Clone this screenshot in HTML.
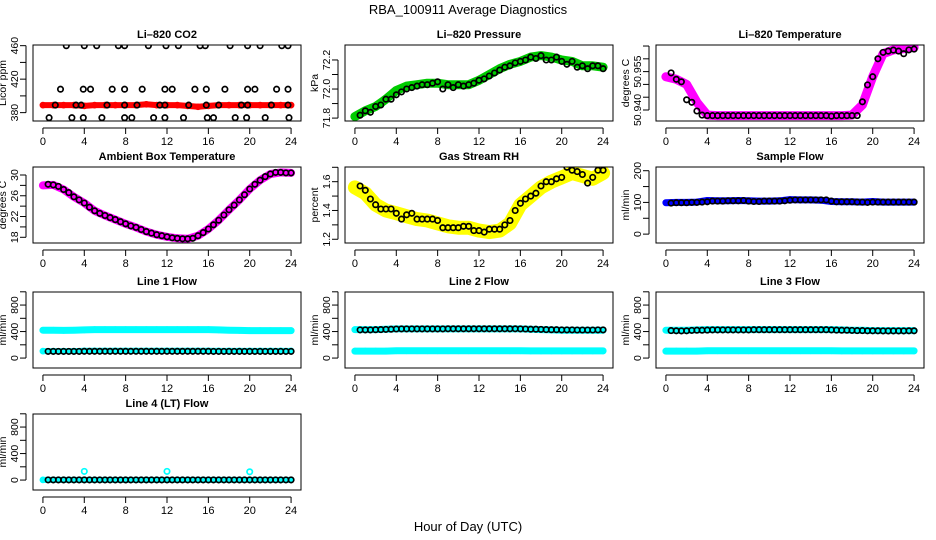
<!DOCTYPE html>
<html><head><meta charset="utf-8"><title>RBA_100911 Average Diagnostics</title>
<style>
html,body{margin:0;padding:0;background:#fff;}
svg{display:block;font-family:"Liberation Sans",sans-serif;}
</style></head>
<body>
<svg id="chart" width="936" height="540" viewBox="0 0 936 540" xmlns="http://www.w3.org/2000/svg">
<text x="468" y="14" text-anchor="middle" font-size="13">RBA_100911  Average Diagnostics</text>
<text x="468" y="531" text-anchor="middle" font-size="13">Hour of Day (UTC)</text>
</svg>
<script>
// ---- data ----
const halfHours = [0,0.5,1,1.5,2,2.5,3,3.5,4,4.5,5,5.5,6,6.5,7,7.5,8,8.5,9,9.5,10,10.5,11,11.5,12,12.5,13,13.5,14,14.5,15,15.5,16,16.5,17,17.5,18,18.5,19,19.5,20,20.5,21,21.5,22,22.5,23,23.5,24];
const hours = [0,1,2,3,4,5,6,7,8,9,10,11,12,13,14,15,16,17,18,19,20,21,22,23,24];
const xTicks = [0,4,8,12,16,20,24];

// CO2
const co2Raw = [389,389,389,389,388,389,389,389,389,389,390,389,389,389,388,387,388,389,389,389,389,389,389,389,389];
const co2PtHours = [2.26,4,5.2,7.3,7.9,10.2,11.9,13.1,15.2,15.7,18.1,19.8,21,23.1,23.7, 1.7,3.9,4.6,6.7,7.9,9.6,11.8,12.5,14.7,15.8,17.6,19.8,20.5,22.6,23.7, 1.2,3.2,3.7,6.2,7.9,9.1,11.3,11.8,14.1,15.8,17,19.2,19.8,22.1,23.7, 0.6,2.8,3.9,5.7,7.9,8.6,10.7,11.8,13.6,15.9,16.5,18.6,19.7,21.5,23.8];
const co2PtVals = [460,460,460,460,460,460,460,460,460,460,460,460,460,460,460, 408,408,408,408,408,408,408,408,408,408,408,408,408,408,408, 389,389,389,389,389,389,389,389,389,389,389,389,389,389,389, 374,374,374,374,374,374,374,374,374,374,374,374,374,374,374];

// Pressure
const presRaw = [71.81,71.85,71.88,71.93,71.99,72.02,72.03,72.04,72.04,72.03,72.03,72.03,72.06,72.10,72.14,72.17,72.19,72.22,72.23,72.22,72.20,72.19,72.16,72.16,72.15];
const presAvg = [null,71.82,71.85,71.84,71.88,71.89,71.93,71.93,71.96,71.98,72.00,72.01,72.02,72.03,72.03,72.04,72.05,72.00,72.03,72.01,72.03,72.02,72.03,72.04,72.06,72.07,72.09,72.11,72.13,72.15,72.16,72.18,72.19,72.20,72.22,72.21,72.23,72.20,72.20,72.22,72.19,72.17,72.19,72.15,72.16,72.14,72.16,72.16,72.14];

// Li-820 temperature
const ltRaw = [50.953,50.952,50.950,50.943,50.938,50.9378,50.9378,50.9378,50.9378,50.9378,50.9378,50.9378,50.9378,50.9378,50.9378,50.9378,50.9378,50.9378,50.9380,50.942,50.953,50.962,50.9635,50.964,50.9645];
const ltAvg = [null,50.9545,50.952,50.951,50.944,50.943,50.9396,50.938,50.9378,50.9378,50.9378,50.9378,50.9378,50.9378,50.9378,50.9378,50.9378,50.9378,50.9378,50.9378,50.9378,50.9378,50.9378,50.9378,50.9378,50.9378,50.9378,50.9378,50.9378,50.9378,50.9378,50.9378,50.9376,50.9378,50.9378,50.9378,50.9378,50.9378,50.9432,50.9498,50.953,50.960,50.9625,50.963,50.9634,50.963,50.962,50.9635,50.9638];

// Ambient box temperature
const ambRaw = [28.0,28.1,27.2,25.8,24.6,23.1,22.2,21.4,20.6,19.9,19.1,18.5,18.1,17.8,17.7,18.3,19.6,21.3,23.3,25.2,27.3,29.0,30.2,30.5,30.4];
const ambAvg = [null,28.2,28.1,27.8,27.2,26.6,25.8,25.2,24.6,23.8,23.1,22.6,22.2,21.8,21.4,21.0,20.6,20.2,19.9,19.5,19.1,18.8,18.5,18.3,18.1,17.9,17.8,17.7,17.7,17.8,18.3,18.9,19.6,20.4,21.3,22.3,23.3,24.2,25.2,26.2,27.3,28.2,29.0,29.7,30.2,30.5,30.5,30.4,30.4];

// Gas stream RH
const rhRaw = [1.56,1.52,1.44,1.40,1.38,1.36,1.34,1.33,1.31,1.29,1.28,1.28,1.26,1.25,1.26,1.31,1.44,1.50,1.56,1.60,1.63,1.66,1.64,1.62,1.66];
const rhAvg = [null,1.57,1.54,1.48,1.44,1.41,1.41,1.41,1.38,1.34,1.37,1.38,1.34,1.34,1.34,1.34,1.33,1.28,1.28,1.28,1.28,1.29,1.29,1.26,1.26,1.25,1.27,1.27,1.27,1.30,1.33,1.40,1.45,1.48,1.50,1.52,1.57,1.60,1.60,1.62,1.63,1.70,1.68,1.67,1.65,1.59,1.63,1.68,1.68];

// Sample flow
const sfRaw = [99,100,100,101,106,105,105,106,105,104,104,105,109,108,108,107,103,102,102,101,103,101,101,101,101];
const sfAvg = [null,98,99,99,99,100,100,101,102,104,104,104,105,105,105,106,104,103,103,104,104,104,104,105,107,108,108,108,108,108,108,108,104,102,102,102,102,101,101,100,101,101,101,101,101,101,101,101,101];

// Line flows
const l1High = [420,420,418,420,425,430,430,430,430,430,430,430,430,430,430,430,430,425,420,418,415,415,415,415,415];
const l1Low = [105,105,105,105,110,110,110,110,110,110,110,110,110,110,110,110,110,108,108,108,108,108,108,108,108];
const l1Avg = [null,100,100,100,100,100,100,100,102,102,102,102,102,102,102,102,102,102,102,102,102,102,102,102,102,102,102,102,102,102,102,102,102,100,100,100,100,100,100,100,100,100,100,100,100,100,100,100,100];
const l2High = [430,430,430,435,440,440,440,440,440,440,440,440,440,440,440,440,440,435,430,425,420,420,420,420,420];
const l2Low = [105,105,105,105,110,110,110,110,110,110,110,110,110,110,110,110,110,108,108,108,108,108,108,108,108];
const l2Avg = [null,425,425,425,428,430,432,435,438,440,440,440,440,440,440,440,440,440,442,442,442,442,442,442,442,442,442,442,442,442,442,442,440,438,436,435,432,430,428,428,425,425,425,424,424,424,424,425,425];
const l3High = [420,420,420,425,430,430,430,430,430,430,430,430,430,430,430,430,430,425,420,420,415,415,415,415,415];
const l3Low = [105,105,105,105,110,110,110,110,110,110,110,110,110,110,110,110,110,108,108,108,108,108,108,108,108];
const l3Avg = [null,415,412,410,412,418,420,420,422,425,425,425,425,425,425,425,425,428,428,428,428,428,428,428,428,428,428,428,428,428,428,428,425,422,420,420,418,415,415,412,412,412,410,410,410,410,410,412,412];
const l4Raw = [2,2,2,2,2,2,2,2,2,2,2,2,2,2,2,2,2,2,2,2,2,2,2,2,2];
const l4SpikeHours = [4,12,20];
const l4SpikeVals = [130,130,125];
const l4Avg = [null,2,2,2,2,2,2,2,2,2,2,2,2,2,2,2,2,2,2,2,2,2,2,2,2,2,2,2,2,2,2,2,2,2,2,2,2,2,2,2,2,2,2,2,2,2,2,2,2];

// ---- layout ----
const NS = 'http://www.w3.org/2000/svg';
const svg = document.getElementById('chart');
const colL = [33,345,656], rowT = [45,167,292,414], PW = 268, PH = 76;
function mk(tag, attrs, parent){ const e=document.createElementNS(NS,tag); for(const k in attrs) e.setAttribute(k,attrs[k]); (parent||svg).appendChild(e); return e; }

const panels = [
 {key:'co2', title:'Li\u2013820 CO2', ylab:'Licor ppm', c:0,r:0, ymin:370, ymax:460.8, ticks:[380,400,420,440,460], labels:[380,420,460], fmt:v=>String(v)},
 {key:'pressure', title:'Li\u2013820 Pressure', ylab:'kPa', c:1,r:0, ymin:71.78, ymax:72.303, ticks:[71.8,71.9,72.0,72.1,72.2], labels:[71.8,72.0,72.2], fmt:v=>v.toFixed(1)},
 {key:'li-temp', title:'Li\u2013820 Temperature', ylab:'degrees C', c:2,r:0, ymin:50.9357, ymax:50.9654, ticks:[50.940,50.945,50.950,50.955,50.960,50.965], labels:[50.940,50.955], fmt:v=>v.toFixed(3)},
 {key:'ambient', title:'Ambient Box Temperature', ylab:'degrees C', c:0,r:1, ymin:16.9, ymax:31.54, ticks:[18,20,22,24,26,28,30], labels:[18,22,26,30], fmt:v=>String(v)},
 {key:'rh', title:'Gas Stream RH', ylab:'percent', c:1,r:1, ymin:1.174, ymax:1.702, ticks:[1.2,1.3,1.4,1.5,1.6,1.7], labels:[1.2,1.4,1.6], fmt:v=>v.toFixed(1)},
 {key:'sample', title:'Sample Flow', ylab:'ml/min', c:2,r:1, ymin:-28, ymax:211.7, ticks:[0,50,100,150,200], labels:[0,100,200], fmt:v=>String(v)},
 {key:'line1', title:'Line 1 Flow', ylab:'ml/min', c:0,r:2, ymin:-150, ymax:997, ticks:[0,200,400,600,800,1000], labels:[0,400,800], fmt:v=>String(v)},
 {key:'line2', title:'Line 2 Flow', ylab:'ml/min', c:1,r:2, ymin:-150, ymax:997, ticks:[0,200,400,600,800,1000], labels:[0,400,800], fmt:v=>String(v)},
 {key:'line3', title:'Line 3 Flow', ylab:'ml/min', c:2,r:2, ymin:-150, ymax:997, ticks:[0,200,400,600,800,1000], labels:[0,400,800], fmt:v=>String(v)},
 {key:'line4', title:'Line 4 (LT) Flow', ylab:'ml/min', c:0,r:3, ymin:-150, ymax:997, ticks:[0,200,400,600,800,1000], labels:[0,400,800], fmt:v=>String(v)}
];

function band(g, xs, ys, sx, sy, color, w, name){
  const pts=[]; xs.forEach((x,i)=>{ if(ys[i]!=null) pts.push(sx(x).toFixed(1)+','+sy(ys[i]).toFixed(1)); });
  const pl = mk('polyline',{points:pts.join(' '),fill:'none',stroke:color,'stroke-width':w,'stroke-linejoin':'round','stroke-linecap':'round'},g);
  
  
  xs.forEach((x,i)=>{ if(ys[i]==null) return;
    const c = mk('circle',{cx:sx(x).toFixed(1),cy:sy(ys[i]).toFixed(1),r:2.6,fill:'none',stroke:color,'stroke-width':1.5},g);
    
    
  });
}
function dots(g, xs, ys, sx, sy, color, name){
  xs.forEach((x,i)=>{ if(ys[i]==null) return;
    const c = mk('circle',{cx:sx(x).toFixed(1),cy:sy(ys[i]).toFixed(1),r:2.7,fill:'none',stroke:color,'stroke-width':1.7},g);
    
    
  });
}

panels.forEach(p=>{
  const L=colL[p.c], T=rowT[p.r];
  const g = mk('g',{});
  
  
  const sx = h => L + (h + 0.96) / 25.92 * PW;
  const sy = v => T + PH - (v - p.ymin) / (p.ymax - p.ymin) * PH;
  const clipId = 'clip-'+p.key;
  const cp = mk('clipPath',{id:clipId},g); mk('rect',{x:L,y:T,width:PW,height:PH},cp);
  const dg = mk('g',{'clip-path':'url(#'+clipId+')'},g);
  
  

  if(p.key==='co2'){ band(dg,hours,co2Raw,sx,sy,'#ff0000',6,'co2-raw'); dots(dg,co2PtHours,co2PtVals,sx,sy,'#000','co2-avg-point'); }
  if(p.key==='pressure'){ band(dg,hours,presRaw,sx,sy,'#00cc00',9,'pressure-raw'); dots(dg,halfHours,presAvg,sx,sy,'#000','pressure-avg-point'); }
  if(p.key==='li-temp'){ band(dg,hours,ltRaw,sx,sy,'#ff00ff',9,'li-temp-raw'); dots(dg,halfHours,ltAvg,sx,sy,'#000','li-temp-avg-point'); }
  if(p.key==='ambient'){ band(dg,hours,ambRaw,sx,sy,'#ff00ff',8,'ambient-raw'); dots(dg,halfHours,ambAvg,sx,sy,'#000','ambient-avg-point'); }
  if(p.key==='rh'){ band(dg,hours,rhRaw,sx,sy,'#ffff00',14,'rh-raw'); dots(dg,halfHours,rhAvg,sx,sy,'#000','rh-avg-point'); }
  if(p.key==='sample'){ band(dg,hours,sfRaw,sx,sy,'#0000ff',7,'sample-raw'); dots(dg,halfHours,sfAvg,sx,sy,'#000','sample-avg-point'); }
  if(p.key==='line1'){ band(dg,hours,l1High,sx,sy,'#00ffff',7,'line1-raw-high'); band(dg,hours,l1Low,sx,sy,'#00ffff',6,'line1-raw-low'); dots(dg,halfHours,l1Avg,sx,sy,'#000','line1-avg-point'); }
  if(p.key==='line2'){ band(dg,hours,l2High,sx,sy,'#00ffff',7,'line2-raw-high'); band(dg,hours,l2Low,sx,sy,'#00ffff',7,'line2-raw-low'); dots(dg,halfHours,l2Avg,sx,sy,'#000','line2-avg-point'); }
  if(p.key==='line3'){ band(dg,hours,l3High,sx,sy,'#00ffff',7,'line3-raw-high'); band(dg,hours,l3Low,sx,sy,'#00ffff',7,'line3-raw-low'); dots(dg,halfHours,l3Avg,sx,sy,'#000','line3-avg-point'); }
  if(p.key==='line4'){ band(dg,hours,l4Raw,sx,sy,'#00ffff',6,'line4-raw'); dots(dg,l4SpikeHours,l4SpikeVals,sx,sy,'#00ffff','line4-spike-point'); dots(dg,halfHours,l4Avg,sx,sy,'#000','line4-avg-point'); }

  const box = mk('rect',{x:L,y:T,width:PW,height:PH,fill:'none',stroke:'#000','stroke-width':1},g);
  
  
  const t = mk('text',{x:L+PW/2,y:T-7,'text-anchor':'middle','font-size':11,'font-weight':'bold'},g);
  t.textContent = p.title;
  
  
  // x axis
  const xa = mk('g',{},g);
  
  
  mk('line',{x1:sx(xTicks[0]),x2:sx(xTicks[xTicks.length-1]),y1:T+PH+7,y2:T+PH+7,stroke:'#000'},xa);
  xTicks.forEach(v=>{
    mk('line',{x1:sx(v),x2:sx(v),y1:T+PH+7,y2:T+PH+13,stroke:'#000'},xa);
    const tl = mk('text',{x:sx(v),y:T+PH+24,'text-anchor':'middle','font-size':11},xa);
    tl.textContent = String(v);
    
    
  });
  // y axis
  const ya = mk('g',{},g);
  
  
  const ax = L-7;
  mk('line',{x1:ax,x2:ax,y1:sy(p.ticks[0]),y2:sy(p.ticks[p.ticks.length-1]),stroke:'#000'},ya);
  p.ticks.forEach(v=>{ mk('line',{x1:ax-6,x2:ax,y1:sy(v),y2:sy(v),stroke:'#000'},ya); });
  p.labels.forEach(v=>{
    const yy = sy(v);
    const lx = L-15;
    const tl = mk('text',{x:lx,y:yy,'text-anchor':'middle','font-size':10.5,transform:'rotate(-90 '+lx+' '+yy+')'},ya);
    tl.textContent = p.fmt(v);
    
    
  });
  const tx = L-27;
  const yt = mk('text',{x:tx,y:T+PH/2,'text-anchor':'middle','font-size':10.5,transform:'rotate(-90 '+tx+' '+(T+PH/2)+')'},g);
  yt.textContent = p.ylab;
  
  
});
</script>
</body></html>
